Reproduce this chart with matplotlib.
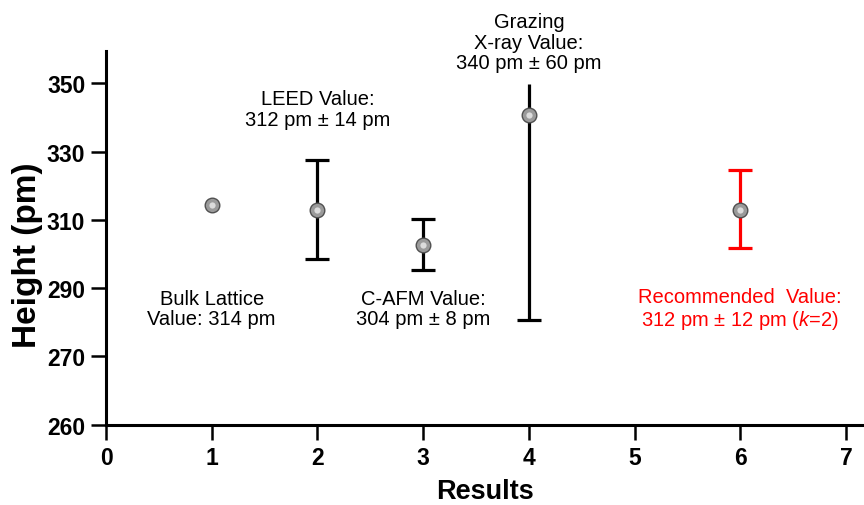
"""Height results: bulk lattice, LEED, C-AFM, grazing X-ray and recommended value."""
import matplotlib
matplotlib.use("Agg")
import matplotlib.pyplot as plt

plt.rcParams["font.family"] = ["Liberation Sans", "DejaVu Sans"]
plt.rcParams["mathtext.fontset"] = "custom"
plt.rcParams["mathtext.it"] = "Liberation Sans:italic"
plt.rcParams["mathtext.rm"] = "Liberation Sans"

# --- Data ---
positions = [1, 2, 3, 4, 6]
heights = [314.3, 312.8, 302.8, 340.8, 312.8]
err_lower = [0, 14.2, 7.5, 60.0, 11.0]
err_upper = [0, 14.8, 7.5, 9.0, 11.7]   # X-ray bar runs off the top of the scale
bar_colors = ["black", "black", "black", "black", "red"]

ytick_pos = [250, 270, 290, 310, 330, 350]
ytick_labels = ["260", "270", "290", "310", "330", "350"]
xtick_pos = [0, 1, 2, 3, 4, 5, 6, 7]

labels = [
    (1, 284, "Bulk Lattice\nValue: 314 pm", "black"),
    (2, 342.5, "LEED Value:\n312 pm ± 14 pm", "black"),
    (3, 284, "C-AFM Value:\n304 pm ± 8 pm", "black"),
    (4, 362, "Grazing\nX-ray Value:\n340 pm ± 60 pm", "black"),
    (6, 284, "Recommended  Value:\n312 pm ± 12 pm ($k$=2)", "red"),
]

# --- Figure ---
fig = plt.figure(figsize=(8.64, 5.06), dpi=100)
ax = fig.add_axes([0.1227, 0.1587, 0.8773, 0.7385])

for i, x in enumerate(positions):
    if err_lower[i] == 0 and err_upper[i] == 0:
        continue
    eb = ax.errorbar(x, heights[i], yerr=[[err_lower[i]], [err_upper[i]]],
                     fmt="none", ecolor=bar_colors[i], elinewidth=2.3,
                     capsize=8.5, capthick=2.3, zorder=2)
    if x == 4:
        # no cap on the clipped top end
        eb[1][1].set_visible(False)

# sphere-like markers: grey disc with a lighter centre
ax.plot(positions, heights, "o", ms=10.5, mfc="#9a9a9a", mec="#505050", mew=1.0,
        ls="none", zorder=3)
ax.plot(positions, heights, "o", ms=4.5, mfc="#dcdcdc", mec="none",
        ls="none", zorder=4)

for x, y, txt, col in labels:
    ax.text(x, y, txt, ha="center", va="center", fontsize=14.5, color=col,
            linespacing=1.1, clip_on=False)

ax.set_xlim(0, 7.17)
ax.set_ylim(250, 359.5)
ax.set_xticks(xtick_pos)
ax.set_yticks(ytick_pos)
ax.set_yticklabels(ytick_labels)

for lbl in ax.get_xticklabels() + ax.get_yticklabels():
    lbl.set_fontweight("bold")
    lbl.set_fontsize(16.5)

ax.spines["top"].set_visible(False)
ax.spines["right"].set_visible(False)
ax.spines["left"].set_linewidth(2.2)
ax.spines["bottom"].set_linewidth(2.2)
ax.tick_params(direction="out", length=11, width=1.8, pad=4)

ax.set_xlabel("Results", fontsize=19.5, fontweight="bold", labelpad=7)
ax.set_ylabel("Height (pm)", fontsize=24, fontweight="bold")
ax.yaxis.set_label_coords(-0.083, 0.455)

fig.savefig("out.png", dpi=100)
plt.close(fig)
